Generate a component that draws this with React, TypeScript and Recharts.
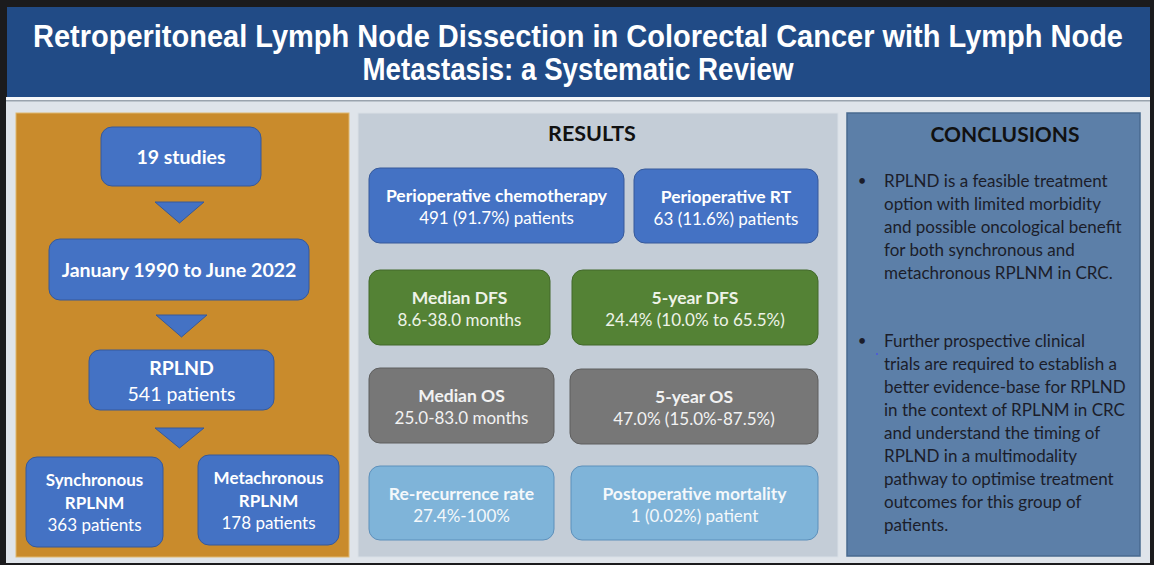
import React from "react";
import { ComposedChart, Customized, Rectangle, Polygon } from "recharts";

// --- content -------------------------------------------------------------
const titleLines = [
  "Retroperitoneal Lymph Node Dissection in Colorectal Cancer with Lymph Node",
  "Metastasis: a Systematic Review",
];

const flowTitles = ["19 studies", "January 1990 to June 2022", "RPLND", "Synchronous", "Metachronous"];
const flowSubTitles = ["", "", "", "RPLNM", "RPLNM"];
const flowPatients = [null, null, 541, 363, 178];

const resultsHeading = "RESULTS";
const resultTitles = [
  "Perioperative chemotherapy",
  "Perioperative RT",
  "Median DFS",
  "5-year DFS",
  "Median OS",
  "5-year OS",
  "Re-recurrence rate",
  "Postoperative mortality",
];
const resultValues = [
  "491 (91.7%) patients",
  "63 (11.6%) patients",
  "8.6-38.0 months",
  "24.4% (10.0% to 65.5%)",
  "25.0-83.0 months",
  "47.0% (15.0%-87.5%)",
  "27.4%-100%",
  "1 (0.02%) patient",
];
const resultGroups = ["treatment", "treatment", "dfs", "dfs", "os", "os", "other", "other"];

const conclusionsHeading = "CONCLUSIONS";
const conclusionBullets = [
  [
    "RPLND is a feasible treatment",
    "option with limited morbidity",
    "and possible oncological benefit",
    "for both synchronous and",
    "metachronous RPLNM in CRC.",
  ],
  [
    "Further prospective clinical",
    "trials are required to establish a",
    "better evidence-base for RPLND",
    "in the context of RPLNM in CRC",
    "and understand the timing of",
    "RPLND in a multimodality",
    "pathway to optimise treatment",
    "outcomes for this group of",
    "patients.",
  ],
];

// --- layout / styles -----------------------------------------------------
const W = 1154;
const H = 565;
const FONT = "Lato, 'Open Sans', sans-serif";
const TITLE_SQUEEZE = 0.82;

const groupColors: Record<string, { fill: string; stroke: string; text: string }> = {
  treatment: { fill: "#4472c4", stroke: "#36599a", text: "#ffffff" },
  dfs: { fill: "#548235", stroke: "#42692a", text: "#eef3e8" },
  os: { fill: "#777777", stroke: "#5e5e5e", text: "#f2f2f2" },
  other: { fill: "#7fb4d9", stroke: "#5d90bb", text: "#f4f8fb" },
};

// box rectangles [x, y, w, h]
const flowBoxes = [
  [101, 127, 160, 59],
  [49, 239, 260, 61],
  [89, 350, 185, 60],
  [26, 457, 137, 90],
  [198, 455, 141, 90],
];
const flowArrows = [
  [155, 202, 204, 223],
  [156, 315, 207, 337],
  [155, 428, 204, 448],
];
const resultBoxes = [
  [369, 168, 255, 75],
  [634, 169, 184, 74],
  [369, 270, 181, 75],
  [572, 270, 246, 75],
  [369, 368, 185, 75],
  [570, 369, 248, 75],
  [369, 466, 185, 74],
  [571, 466, 247, 74],
];

const Poster = () => (
  <g>
    <rect x={0} y={0} width={W} height={H} fill="#1b1b1d" />
    {/* header */}
    <rect x={7} y={7} width={1143} height={90} fill="#214b86" />
    {titleLines.map((t, i) => (
      <g key={t} transform={`translate(578, ${i === 0 ? 47 : 80}) scale(${TITLE_SQUEEZE}, 1)`}>
        <text
          x={0}
          y={0}
          textAnchor="middle"
          fill="#ffffff"
          fontFamily="'Liberation Sans Narrow', 'Arial Narrow', 'Liberation Sans', sans-serif"
          fontWeight="bold"
          fontSize={31}
          textLength={(i === 0 ? 1090 : 431) / TITLE_SQUEEZE}
          lengthAdjust="spacingAndGlyphs"
        >
          {t}
        </text>
      </g>
    ))}
    {/* light background */}
    <rect x={6} y={97} width={1144} height={466} fill="#dfe4ea" />
    <rect x={6} y={97} width={1144} height={3} fill="#f7f8fa" />
    <rect x={6} y={100} width={1144} height={1.5} fill="#9aa3ad" />

    {/* left panel */}
    <rect x={16} y={113} width={333} height={444} fill="#c98b2c" stroke="#e0b76e" strokeWidth={1} />
    {flowArrows.map(([x1, y1, x2, y2], i) => (
      <Polygon
        key={`a${i}`}
        points={[
          { x: x1, y: y1 },
          { x: x2, y: y1 },
          { x: (x1 + x2) / 2, y: y2 },
        ]}
        fill="#4472c4"
        stroke="#36599a"
        strokeWidth={1}
      />
    ))}
    {flowBoxes.map(([x, y, w, h], i) => {
      const cx = x + w / 2;
      const lines: { t: string; bold: boolean }[] = [{ t: flowTitles[i], bold: true }];
      if (flowSubTitles[i]) lines.push({ t: flowSubTitles[i], bold: true });
      if (flowPatients[i] != null) lines.push({ t: `${flowPatients[i]} patients`, bold: false });
      const small = i >= 3;
      const fs = small ? 17 : 19.5;
      const gap = small ? 22.5 : 26;
      const cy = y + h / 2;
      const top = cy - ((lines.length - 1) * gap) / 2;
      return (
        <g key={`f${i}`}>
          <Rectangle x={x} y={y} width={w} height={h} radius={11} fill="#4472c4" stroke="#36599a" strokeWidth={1} />
          {lines.map((l, j) => (
            <text
              key={j}
              x={cx}
              y={top + j * gap}
              textAnchor="middle"
              dominantBaseline="central"
              fill="#ffffff"
              fontFamily={FONT}
              fontWeight={l.bold ? 700 : 400}
              fontSize={fs}
            >
              {l.t}
            </text>
          ))}
        </g>
      );
    })}

    {/* middle panel */}
    <rect x={358} y={113} width={480} height={444} fill="#c4cdd7" stroke="#d9dfe6" strokeWidth={1} />
    <text x={592} y={133} textAnchor="middle" dominantBaseline="central" fill="#111111" fontFamily={FONT} fontWeight={700} fontSize={21.5}>
      {resultsHeading}
    </text>
    {resultBoxes.map(([x, y, w, h], i) => {
      const c = groupColors[resultGroups[i]];
      const cx = x + w / 2;
      return (
        <g key={`r${i}`}>
          <Rectangle x={x} y={y} width={w} height={h} radius={11} fill={c.fill} stroke={c.stroke} strokeWidth={1} />
          <text x={cx} y={y + 27} textAnchor="middle" dominantBaseline="central" fill={c.text} fontFamily={FONT} fontWeight={700} fontSize={17.5}>
            {resultTitles[i]}
          </text>
          <text x={cx} y={y + 49} textAnchor="middle" dominantBaseline="central" fill={c.text} fontFamily={FONT} fontWeight={400} fontSize={17}>
            {resultValues[i]}
          </text>
        </g>
      );
    })}

    {/* right panel */}
    <rect x={847} y={113} width={293} height={443} fill="#5c7fa8" stroke="#48698f" strokeWidth={1.5} />
    <text x={1005} y={133} textAnchor="middle" dominantBaseline="central" fill="#111111" fontFamily={FONT} fontWeight={700} fontSize={21}>
      {conclusionsHeading}
    </text>
    {conclusionBullets.map((lines, b) => {
      const y0 = b === 0 ? 180 : 340;
      return (
        <g key={`c${b}`}>
          <text x={862} y={y0} textAnchor="middle" dominantBaseline="central" fill="#1b1d2a" fontFamily={FONT} fontSize={15}>
            •
          </text>
          {lines.map((t, j) => (
            <text key={j} x={884} y={y0 + j * 23} dominantBaseline="central" fill="#1b1d2a" fontFamily={FONT} fontSize={17}>
              {t}
            </text>
          ))}
        </g>
      );
    })}
    <circle cx={877} cy={354} r={1} fill="#4a55e0" />
  </g>
);

export default function App() {
  return (
    <div style={{ position: "absolute", left: 0, top: 0, width: W, height: H, background: "#1b1b1d" }}>
      <ComposedChart width={W} height={H} data={[]} margin={{ top: 0, right: 0, bottom: 0, left: 0 }}>
        <Customized component={<Poster />} />
      </ComposedChart>
    </div>
  );
}
